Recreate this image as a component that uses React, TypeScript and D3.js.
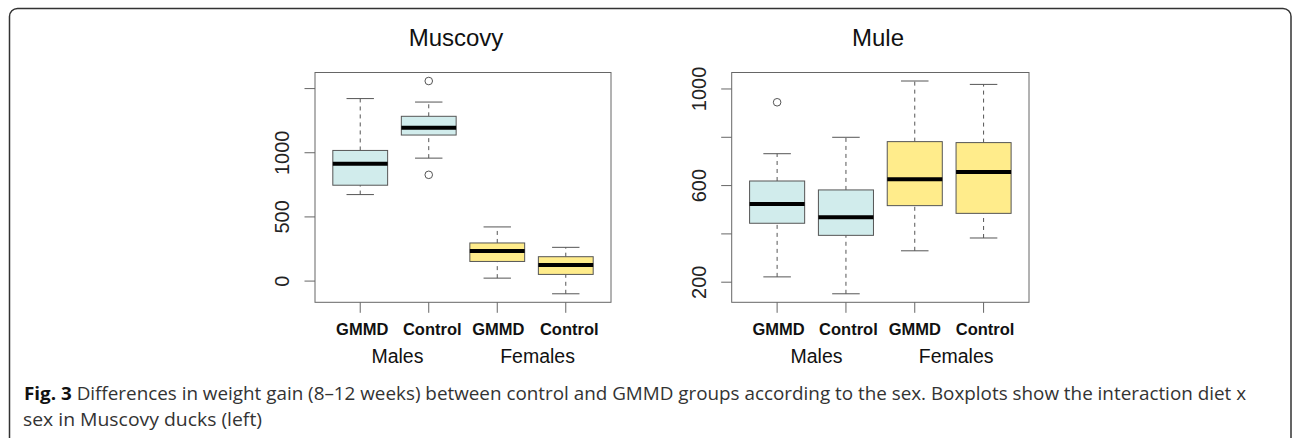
import React from "react";
import * as d3 from "d3";

const categories = ["GMMD", "Control", "GMMD", "Control"];
const sexes = ["Males", "Females"];
const fillKeys = ["male", "male", "female", "female"];

// Muscovy: [low whisker, Q1, median, Q3, high whisker]
const muscovyStats = [
  [674, 747, 914, 1018, 1422],
  [958, 1138, 1195, 1284, 1395],
  [23, 153, 234, 297, 422],
  [-99, 52, 125, 190, 263],
];
const muscovyOutliers = [[], [1559, 828], [], []];
const muscovyTicks = [0, 500, 1000, 1500];
const muscovyTickLabels = ["0", "500", "1000", ""];

// Mule
const muleStats = [
  [222, 444, 524, 619, 732],
  [152, 394, 469, 582, 800],
  [330, 517, 626, 782, 1033],
  [383, 485, 656, 778, 1019],
];
const muleOutliers = [[945], [], [], []];
const muleTicks = [200, 400, 600, 800, 1000];
const muleTickLabels = ["200", "", "600", "", "1000"];

const fills: Record<string, string> = { male: "#D1ECEC", female: "#FFEC8B" };

type PanelProps = {
  title: string;
  titleX: number;
  stats: number[][];
  outliers: number[][];
  ticks: number[];
  tickLabels: string[];
  left: number;
  right: number;
  catOffsets: number[];
  sexOffsets: number[];
};

const TOP = 72.5;
const BOTTOM = 302.3;
const RF = "'Liberation Sans', Arial, Helvetica, sans-serif";
const AX = "#555";

function Panel(p: PanelProps) {
  const all = p.stats.flat().concat(p.outliers.flat());
  const [mn, mx] = d3.extent(all) as [number, number];
  const ext = (mx - mn) * 0.04;
  const y = d3.scaleLinear().domain([mn - ext, mx + ext]).range([BOTTOM, TOP]);
  const xr = 4 * 0.04;
  const x = d3.scaleLinear().domain([0.5 - xr, 4.5 + xr]).range([p.left, p.right]);
  const bw = x(1.8) - x(1);
  const cap = bw / 2;
  return (
    <g>
      <text x={p.titleX} y={46} fontFamily={RF} fontSize={24} textAnchor="middle" fill="#111">
        {p.title}
      </text>
      {p.stats.map((s, i) => {
        const cx = x(i + 1);
        return (
          <g key={i}>
            <line x1={cx} x2={cx} y1={y(s[0])} y2={y(s[1])} stroke={AX} strokeWidth={1} strokeDasharray="4,4" />
            <line x1={cx} x2={cx} y1={y(s[3])} y2={y(s[4])} stroke={AX} strokeWidth={1} strokeDasharray="4,4" />
            <line x1={cx - cap / 2} x2={cx + cap / 2} y1={y(s[0])} y2={y(s[0])} stroke={AX} strokeWidth={1} />
            <line x1={cx - cap / 2} x2={cx + cap / 2} y1={y(s[4])} y2={y(s[4])} stroke={AX} strokeWidth={1} />
            <rect
              x={cx - bw / 2}
              width={bw}
              y={y(s[3])}
              height={y(s[1]) - y(s[3])}
              fill={fills[fillKeys[i]]}
              stroke={AX}
              strokeWidth={1}
            />
            <line x1={cx - bw / 2} x2={cx + bw / 2} y1={y(s[2])} y2={y(s[2])} stroke="#000" strokeWidth={4} />
            {p.outliers[i].map((o, j) => (
              <circle key={j} cx={cx} cy={y(o)} r={3.8} fill="none" stroke={AX} strokeWidth={1} />
            ))}
          </g>
        );
      })}
      <rect x={p.left} y={TOP} width={p.right - p.left} height={BOTTOM - TOP} fill="none" stroke="#666" strokeWidth={1} />
      {p.ticks.map((t, i) => (
        <g key={i}>
          <line x1={p.left - 10.5} x2={p.left} y1={y(t)} y2={y(t)} stroke="#666" strokeWidth={1} />
          {p.tickLabels[i] && (
            <text
              transform={`translate(${p.left - 26},${y(t)}) rotate(-90)`}
              fontFamily={RF}
              fontSize={20}
              textAnchor="middle"
              fill="#222"
            >
              {p.tickLabels[i]}
            </text>
          )}
        </g>
      ))}
      {categories.map((c, i) => (
        <g key={i}>
          <line x1={x(i + 1)} x2={x(i + 1)} y1={BOTTOM} y2={BOTTOM + 10.5} stroke="#666" strokeWidth={1} />
          <text
            x={x(i + 1) + p.catOffsets[i]}
            y={335}
            fontFamily={RF}
            fontWeight="bold"
            fontSize={16.5}
            textAnchor="middle"
            fill="#111"
          >
            {c}
          </text>
        </g>
      ))}
      {sexes.map((s, i) => (
        <text
          key={s}
          x={(x(2 * i + 1) + x(2 * i + 2)) / 2 + p.sexOffsets[i]}
          y={363}
          fontFamily={RF}
          fontSize={19.5}
          textAnchor="middle"
          fill="#111"
        >
          {s}
        </text>
      ))}
    </g>
  );
}

export default function App() {
  const W = 1293;
  const H = 438;
  const capFont = "'Open Sans', 'Noto Sans', sans-serif";
  return (
    <svg width={W} height={H} style={{ position: "absolute", left: 0, top: 0, background: "#fff" }}>
      <rect x={0} y={0} width={W} height={H} fill="#fff" />
      <path
        d="M9.5,446 L9.5,16.5 A8,8 0 0 1 17.5,8.5 L1283,8.5 A8,8 0 0 1 1291,16.5 L1291,446"
        fill="none"
        stroke="#333"
        strokeWidth={1.5}
      />
      <Panel
        title="Muscovy"
        titleX={456}
        stats={muscovyStats}
        outliers={muscovyOutliers}
        ticks={muscovyTicks}
        tickLabels={muscovyTickLabels}
        left={315}
        right={611}
        catOffsets={[2, 3.5, 1, 3.5]}
        sexOffsets={[3, 6]}
      />
      <Panel
        title="Mule"
        titleX={878}
        stats={muleStats}
        outliers={muleOutliers}
        ticks={muleTicks}
        tickLabels={muleTickLabels}
        left={731.7}
        right={1029}
        catOffsets={[1.5, 2.5, 0, 1.5]}
        sexOffsets={[5, 7]}
      />
      <text x={24} y={400} fontFamily={capFont} fontSize={18} fill="#333" textLength={1222} lengthAdjust="spacingAndGlyphs">
        <tspan fontWeight="bold" fill="#111">Fig. 3</tspan>
        <tspan> Differences in weight gain (8–12 weeks) between control and GMMD groups according to the sex. Boxplots show the interaction diet x</tspan>
      </text>
      <text x={23} y={426} fontFamily={capFont} fontSize={18} fill="#333" textLength={239} lengthAdjust="spacingAndGlyphs">
        sex in Muscovy ducks (left)
      </text>
    </svg>
  );
}
